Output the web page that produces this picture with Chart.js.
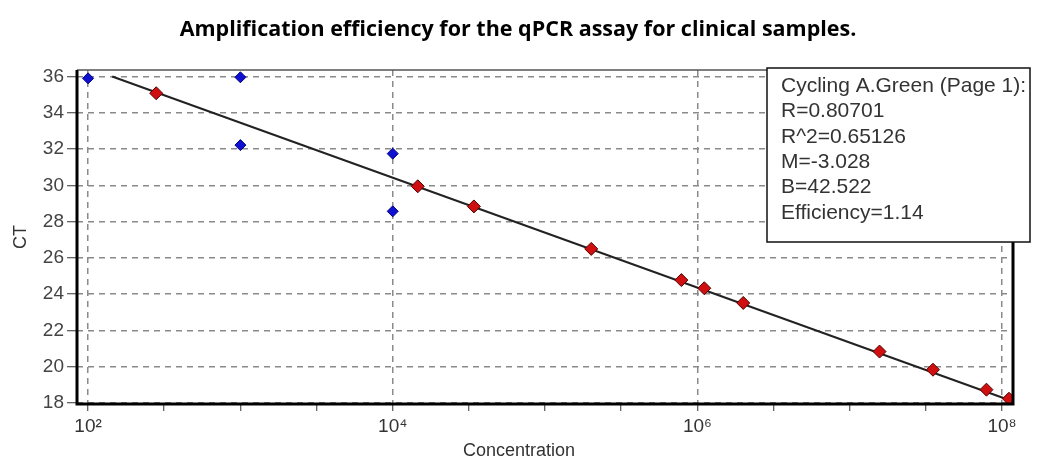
<!DOCTYPE html>
<html>
<head>
<meta charset="utf-8">
<script src="https://cdn.jsdelivr.net/npm/chart.js@4/dist/chart.umd.min.js"></script>
<style>
  html, body { margin: 0; background: #fff; }
  canvas { display: block; }
</style>
</head>
<body>
<canvas id="chart" width="1037" height="468"></canvas>
<script>
const chartTitle = 'Amplification efficiency for the qPCR assay for clinical samples.'
const xTitle = 'Concentration'
const yTitle = 'CT'

// samples on the standard curve (red)
const redConc = [280, 14600, 34100, 201000, 785000, 1110000, 2000000, 15700000, 35200000, 79000000, 111000000]
const redCt = [35.08, 29.95, 28.84, 26.5, 24.78, 24.33, 23.52, 20.84, 19.84, 18.74, 18.24]

// outliers (blue)
const blueConc = [100, 1000, 1000, 10000, 10000]
const blueCt = [35.9, 35.96, 32.22, 31.75, 28.57]

// regression line end points
const fitConc = [144, 117000000]
const fitCt = [36.0, 18.1]

const xTickValues = [1e2, 316, 1e3, 3162, 1e4, 31623, 1e5, 316228, 1e6, 3162278, 1e7, 31622777, 1e8]
const xLabelValues = [1e2, 1e4, 1e6, 1e8]
const xLabelText = ['10²', '10⁴', '10⁶', '10⁸']
const yTickValues = [18, 20, 22, 24, 26, 28, 30, 32, 34, 36]

const statsLines = [
  'Cycling A.Green (Page 1):',
  'R=0.80701',
  'R^2=0.65126',
  'M=-3.028',
  'B=42.522',
  'Efficiency=1.14',
]

const sans = '"Liberation Sans", Arial, sans-serif'
const toPoints = (xs, ys) => xs.map((x, i) => ({ x: x, y: ys[i] }))

const frameAndTextPlugin = {
  id: 'frameAndText',
  afterDraw(chart) {
    const ctx = chart.ctx
    const a = chart.chartArea
    ctx.save()

    // title
    ctx.fillStyle = '#000'
    ctx.font = 'bold 21.5px "Open Sans"'
    ctx.textAlign = 'center'
    ctx.textBaseline = 'middle'
    ctx.fillText(chartTitle, 518, 30)

    // x axis title, centred on the page like the original
    ctx.fillStyle = '#333'
    ctx.font = '18px ' + sans
    ctx.fillText(xTitle, 519, 451)

    // plot frame
    ctx.strokeStyle = '#555'
    ctx.lineWidth = 1.5
    ctx.beginPath()
    ctx.moveTo(a.left, a.top)
    ctx.lineTo(a.right, a.top)
    ctx.stroke()
    ctx.strokeStyle = '#000'
    ctx.lineWidth = 3
    ctx.beginPath()
    ctx.moveTo(a.left, a.top)
    ctx.lineTo(a.left, a.bottom)
    ctx.lineTo(a.right, a.bottom)
    ctx.lineTo(a.right, a.top)
    ctx.stroke()

    // stats box
    ctx.fillStyle = '#fff'
    ctx.fillRect(767, 68, 263, 174)
    ctx.strokeStyle = '#111'
    ctx.lineWidth = 1.5
    ctx.strokeRect(767, 68, 263, 174)
    ctx.fillStyle = '#333'
    ctx.font = '21px ' + sans
    ctx.textAlign = 'left'
    statsLines.forEach((t, i) => ctx.fillText(t, 781, 86 + i * 25.4))

    ctx.restore()
  },
}

new Chart(document.getElementById('chart'), {
  type: 'scatter',
  data: {
    datasets: [
      {
        label: 'samples',
        data: toPoints(redConc, redCt),
        pointStyle: 'rectRot',
        pointRadius: 6.5,
        backgroundColor: '#d01010',
        borderColor: '#500000',
        borderWidth: 1,
        order: 1,
      },
      {
        label: 'outliers',
        data: toPoints(blueConc, blueCt),
        pointStyle: 'rectRot',
        pointRadius: 5.5,
        backgroundColor: '#1010d0',
        borderColor: '#000080',
        borderWidth: 1,
        order: 2,
      },
      {
        label: 'fit',
        data: toPoints(fitConc, fitCt),
        showLine: true,
        pointRadius: 0,
        borderColor: '#222',
        borderWidth: 2,
        order: 3,
      },
    ],
  },
  options: {
    responsive: false,
    animation: false,
    devicePixelRatio: 1,
    layout: { padding: { top: 70, right: 24, left: 0, bottom: 0 } },
    plugins: {
      legend: { display: false },
      tooltip: { enabled: false },
    },
    scales: {
      x: {
        type: 'logarithmic',
        min: 84.6,
        max: 118000000,
        afterFit: (s) => { s.height = 64 },
        afterBuildTicks: (s) => { s.ticks = xTickValues.map((v) => ({ value: v })) },
        border: { display: false, dash: [6, 5] },
        grid: {
          color: (c) => (c.tick && xLabelValues.includes(c.tick.value) ? '#8a8a8a' : 'rgba(0,0,0,0)'),
          tickColor: '#333',
          lineWidth: 1.5,
          tickBorderDash: [],
          tickLength: 7,
          tickWidth: 1,
        },
        ticks: {
          autoSkip: false,
          maxRotation: 0,
          padding: 4,
          color: '#333',
          font: { family: sans, size: 19 },
          callback: (v) => {
            const i = xLabelValues.indexOf(v)
            return i >= 0 ? xLabelText[i] : ''
          },
        },
      },
      y: {
        min: 17.95,
        max: 36.36,
        afterFit: (s) => { s.width = 77 },
        afterBuildTicks: (s) => { s.ticks = yTickValues.map((v) => ({ value: v })) },
        border: { display: false, dash: [6, 5] },
        grid: {
          color: '#8a8a8a',
          tickColor: '#333',
          lineWidth: 1.5,
          tickBorderDash: [],
          tickLength: 10,
          tickWidth: 1,
        },
        ticks: {
          padding: 3,
          color: '#444',
          font: { family: sans, size: 19 },
        },
        title: {
          display: true,
          text: yTitle,
          color: '#333',
          font: { family: sans, size: 18 },
          padding: { top: 10, bottom: 0 },
        },
      },
    },
  },
  plugins: [frameAndTextPlugin],
})
</script>
</body>
</html>
